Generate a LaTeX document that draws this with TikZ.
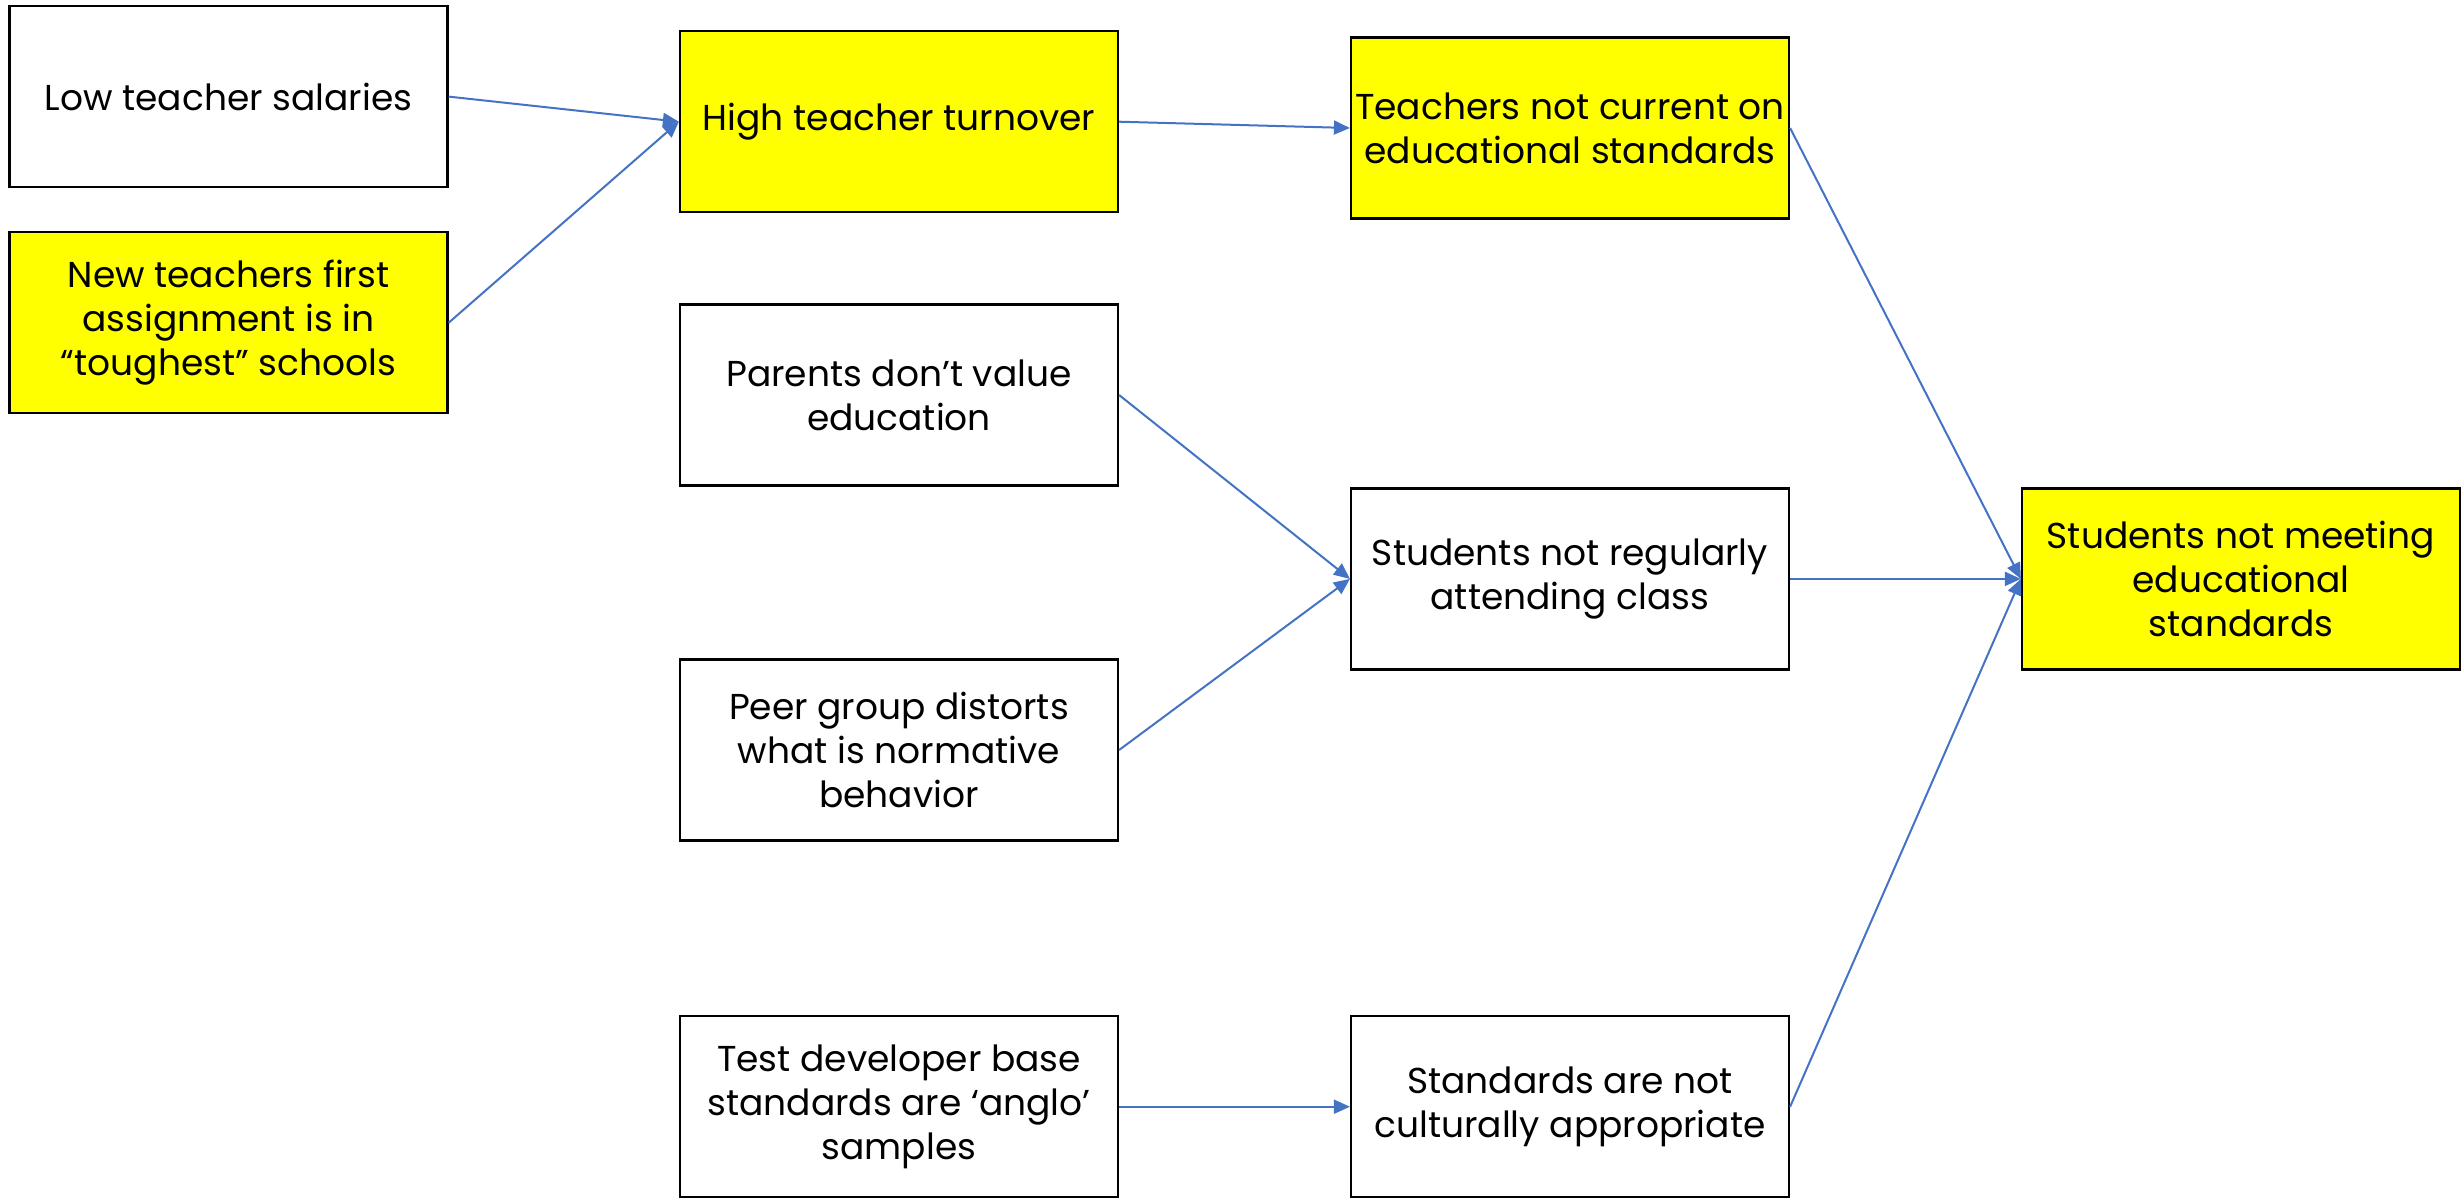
\documentclass[tikz,border=0pt]{standalone}
\usepackage{fontspec}
\setmainfont{Poppins}
\usetikzlibrary{arrows.meta}
\definecolor{arrowblue}{HTML}{4472C4}
\definecolor{boxyellow}{HTML}{FFFF00}
\tikzset{
  cbox/.style={draw=black, line width=1.1pt, rectangle, minimum width=219pt, minimum height=90.5pt, align=center, inner sep=2pt,
    font=\fontsize{18}{22}\selectfont},
  ybox/.style={cbox, fill=boxyellow},
  wbox/.style={cbox, fill=white},
  conn/.style={draw=arrowblue, line width=1pt, -{Triangle[length=8pt,width=7pt]}}
}
\begin{document}
\begin{tikzpicture}[x=0.5pt,y=-0.5pt]
\useasboundingbox (0,0) rectangle (2463,1200);
\node[wbox] (salaries) at (228.5,96.6) {Low teacher salaries};
\node[ybox] (newteach) at (228.5,322.8) {New teachers first\\assignment is in\\“toughest” schools};
\node[ybox] (turnover) at (899,121.7) {High teacher turnover};
\node[ybox] (current) at (1570,128) {Teachers not current on\\educational standards};
\node[wbox] (parents) at (899,395) {Parents don’t value\\education};
\node[wbox] (attend) at (1570,578.9) {Students not regularly\\attending class};
\node[wbox] (peer) at (899,750) {Peer group distorts\\what is normative\\behavior};
\node[ybox] (meeting) at (2241,578.9) {Students not meeting\\educational\\standards};
\node[wbox] (testdev) at (899,1106.7) {Test developer base\\standards are ‘anglo’\\samples};
\node[wbox] (cultural) at (1570,1106.7) {Standards are not\\culturally appropriate};
\draw[conn] (salaries.east) -- (turnover.west);
\draw[conn] (newteach.east) -- (turnover.west);
\draw[conn] (turnover.east) -- (current.west);
\draw[conn] (current.east) -- (meeting.west);
\draw[conn] (parents.east) -- (attend.west);
\draw[conn] (peer.east) -- (attend.west);
\draw[conn] (attend.east) -- (meeting.west);
\draw[conn] (testdev.east) -- (cultural.west);
\draw[conn] (cultural.east) -- (meeting.west);
\end{tikzpicture}
\end{document}
